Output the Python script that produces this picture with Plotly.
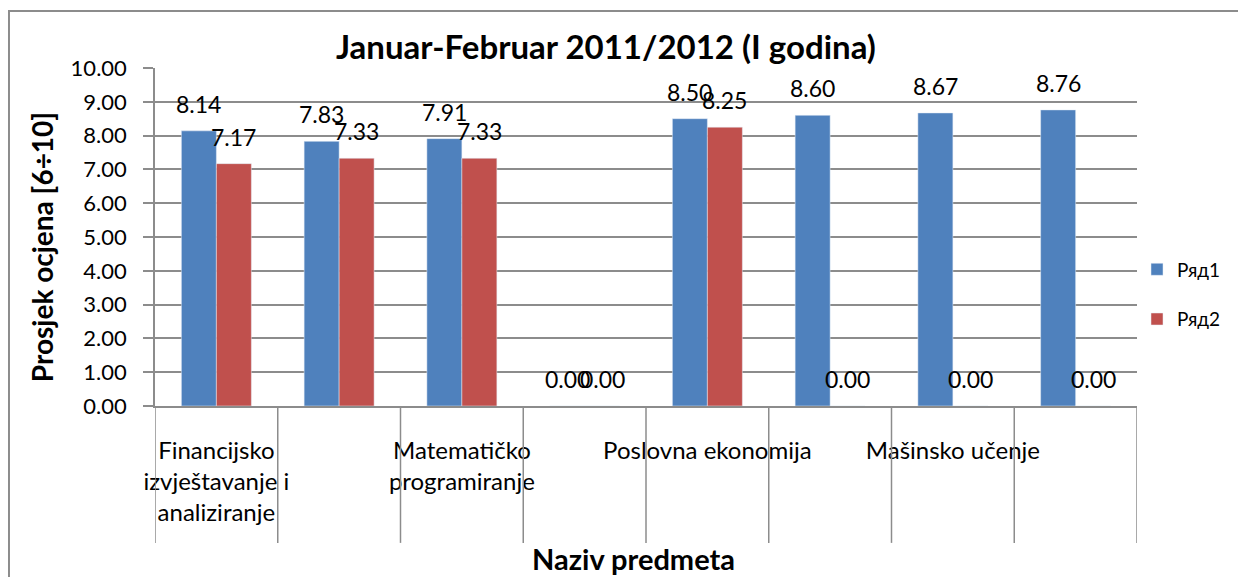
from plotly import graph_objects as go

# category labels (Excel skipped every second label, those are left blank)
categories = [
    "Financijsko<br>izvještavanje i<br>analiziranje",
    "",
    "Matematičko<br>programiranje",
    "",
    "Poslovna ekonomija",
    "",
    "Mašinsko učenje",
    "",
]
series_1 = [8.14, 7.83, 7.91, 0.00, 8.50, 8.60, 8.67, 8.76]
series_2 = [7.17, 7.33, 7.33, 0.00, 8.25, 0.00, 0.00, 0.00]
series_names = ["Ряд1", "Ряд2"]
y_ticks = [0, 1, 2, 3, 4, 5, 6, 7, 8, 9, 10]

BLUE = "#4F81BD"
RED = "#C0504D"
GRID = "#8C8C8C"
FONT = "Lato"

idx = list(range(len(categories)))

fig = go.Figure()
fig.add_trace(go.Bar(x=idx, y=series_1, name=series_names[0], marker_color=BLUE,
                     legendgroup="a"))
fig.add_trace(go.Bar(x=idx, y=series_2, name=series_names[1], marker_color=RED,
                     legendgroup="b"))

# data labels above each bar
annotations = []
for values, shift in [(series_1, -17.5), (series_2, 17.5)]:
    for i, v in zip(idx, values):
        annotations.append(dict(
            x=i, y=v, xref="x", yref="y", text=f"{v:.2f}", showarrow=False,
            xshift=shift, yshift=27, yanchor="middle",
            font=dict(family=FONT, size=23, color="black"),
        ))

# axis titles
annotations.append(dict(
    x=-0.115, y=0.47, xref="paper", yref="paper", text="<b>Prosjek ocjena [6÷10]</b>",
    textangle=-90, showarrow=False, xanchor="center", yanchor="middle",
    font=dict(family=FONT, size=28, color="black"),
))
annotations.append(dict(
    x=0.487, y=-0.45, xref="paper", yref="paper", text="<b>Naziv predmeta</b>",
    showarrow=False, xanchor="center", yanchor="middle",
    font=dict(family=FONT, size=29, color="black"),
))

# long category divider ticks below the axis + outer chart border
shapes = []
for k in range(len(categories) + 1):
    shapes.append(dict(type="line", xref="x", yref="paper", x0=k - 0.5, x1=k - 0.5,
                       y0=0, y1=-0.405, line=dict(color=GRID, width=1.5)))
shapes.append(dict(type="rect", xref="paper", yref="paper", x0=-0.1487, x1=1.3,
                   y0=-0.7, y1=1.1686, line=dict(color=GRID, width=2)))

fig.update_layout(
    width=1238, height=569,
    margin=dict(l=147, r=109, t=60, b=171, autoexpand=False),
    paper_bgcolor="white", plot_bgcolor="white",
    barmode="group", bargap=0.43, bargroupgap=0,
    title=dict(text="<b>Januar-Februar 2011/2012 (I godina)</b>", xref="container",
               x=0.483, y=0.9315, xanchor="center", yanchor="middle",
               font=dict(family=FONT, size=33, color="black")),
    xaxis=dict(range=[-0.5, len(categories) - 0.5], tickvals=idx, ticktext=categories,
               showgrid=False, zeroline=False, showline=True, linecolor=GRID, linewidth=1.5,
               ticks="outside", ticklen=22, tickcolor="rgba(0,0,0,0)",
               tickfont=dict(family=FONT, size=24, color="black")),
    yaxis=dict(range=[0, 10], tickvals=y_ticks, tickformat=".2f",
               showgrid=True, gridcolor=GRID, gridwidth=1.5, zeroline=False,
               showline=True, linecolor=GRID, linewidth=1.5,
               ticks="outside", ticklen=10, tickcolor=GRID, tickwidth=1.5,
               ticklabelstandoff=12,
               tickfont=dict(family=FONT, size=22, color="black")),
    legend=dict(x=1.0, y=0.33, xanchor="left", yanchor="middle",
                tracegroupgap=22, font=dict(family=FONT, size=19, color="black")),
    annotations=annotations,
    shapes=shapes,
)

fig.write_html("out.html")
